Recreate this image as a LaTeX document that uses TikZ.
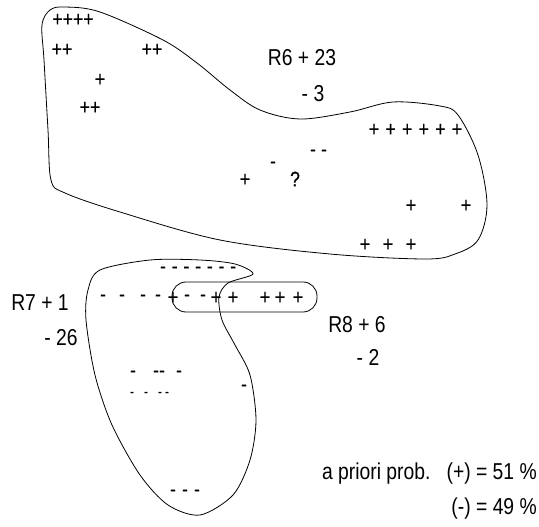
\documentclass[tikz,border=0pt]{standalone}
\usepackage{fontspec}
\setmainfont{Liberation Sans}[FakeStretch=0.84]
\newfontfamily\markfont{Liberation Sans}[FakeStretch=0.84, FakeBold=0.6]
\begin{document}
\begin{tikzpicture}[x=1pt,y=-1pt,
  lbl/.style={inner sep=0pt, font=\fontsize{23}{26}\selectfont},
  mk/.style={inner sep=0pt, font=\markfont\fontsize{21}{24}\selectfont},
  tiny/.style={inner sep=0pt, font=\markfont\fontsize{13}{15}\selectfont},
  region/.style={draw, line width=0.8pt}]
\useasboundingbox (0,0) rectangle (539,527);

% region R6
\draw[region] plot[smooth cycle, tension=0.55] coordinates {
  (48,130) (44,60) (42,25) (50,10) (65,7) (100,12) (163,40) (197,63)
  (230,90) (260,110) (300,119) (350,112) (393,102) (440,106) (458,115)
  (478,155) (487,205) (478,240) (455,254) (425,259) (330,254) (220,240)
  (120,212) (65,193) (51,180)};

% region R7
\draw[region] plot[smooth cycle, tension=0.5] coordinates {
  (253,274) (228,283) (219,297) (222,320) (235,345) (250,375) (256,420)
  (250,460) (233,495) (200,515) (168,505) (140,475) (112,425) (95,375)
  (86,320) (88,290) (100,270) (150,260) (200,260) (235,264)};

% region R8
\draw[region, rounded corners=14pt] (172,282) rectangle (317,312);

% examples in R6
\node[mk] (a1) at (73,20) {++++};
\node[mk] (a2) at (62,50) {++};
\node[mk] (a3) at (152,50) {++};
\node[mk] (a4) at (100,80) {+};
\node[mk] (a5) at (90,108) {++};
\foreach \i in {0,...,5} \node[mk] (b\i) at ({374+16.6*\i},130) {+};
\node[mk] (c1) at (313,153) {-};
\node[mk] (c2) at (324,153) {-};
\node[mk] (c3) at (273,165) {-};
\node[mk] (c4) at (295,179) {?};
\node[mk] (c5) at (245,180) {+};
\node[mk] (c6) at (411,206) {+};
\node[mk] (c7) at (466,206) {+};
\node[mk] (c8) at (365,245) {+};
\node[mk] (c9) at (388,245) {+};
\node[mk] (c10) at (411,245) {+};

% examples around R7 and R8
\foreach \i in {0,...,6} \node[mk] (d\i) at ({163+11.7*\i},270) {-};
\foreach \x [count=\i] in {103,122,143,158,187,203}
  \node[mk] (e\i) at (\x,298) {-};
\foreach \x [count=\i] in {173,216,233,265,280,298}
  \node[mk] (f\i) at (\x,298) {+};
\foreach \x [count=\i] in {133,156,162,179}
  \node[mk] (g\i) at (\x,374) {-};
\node[mk] (g5) at (244,388) {-};
\foreach \x [count=\i] in {132,146,160,167}
  \node[tiny] (h\i) at (\x,394) {-};
\foreach \x [count=\i] in {173,185,197}
  \node[mk] (k\i) at (\x,493) {-};

% rule labels
\node[lbl] (r6) at (302,58) {R6 + 23};
\node[lbl] (r6n) at (313,94) {- 3};
\node[lbl] (r7) at (40,303) {R7 + 1};
\node[lbl] (r7n) at (61,338) {- 26};
\node[lbl] (r8) at (357,325) {R8 + 6};
\node[lbl] (r8n) at (368,357) {- 2};

% prior probabilities
\node[lbl, anchor=east] (pp) at (537,474) {a priori prob.\ \ \ (+) = 51 \%};
\node[lbl, anchor=east] (pm) at (537,509) {(-) = 49 \%};
\end{tikzpicture}
\end{document}
